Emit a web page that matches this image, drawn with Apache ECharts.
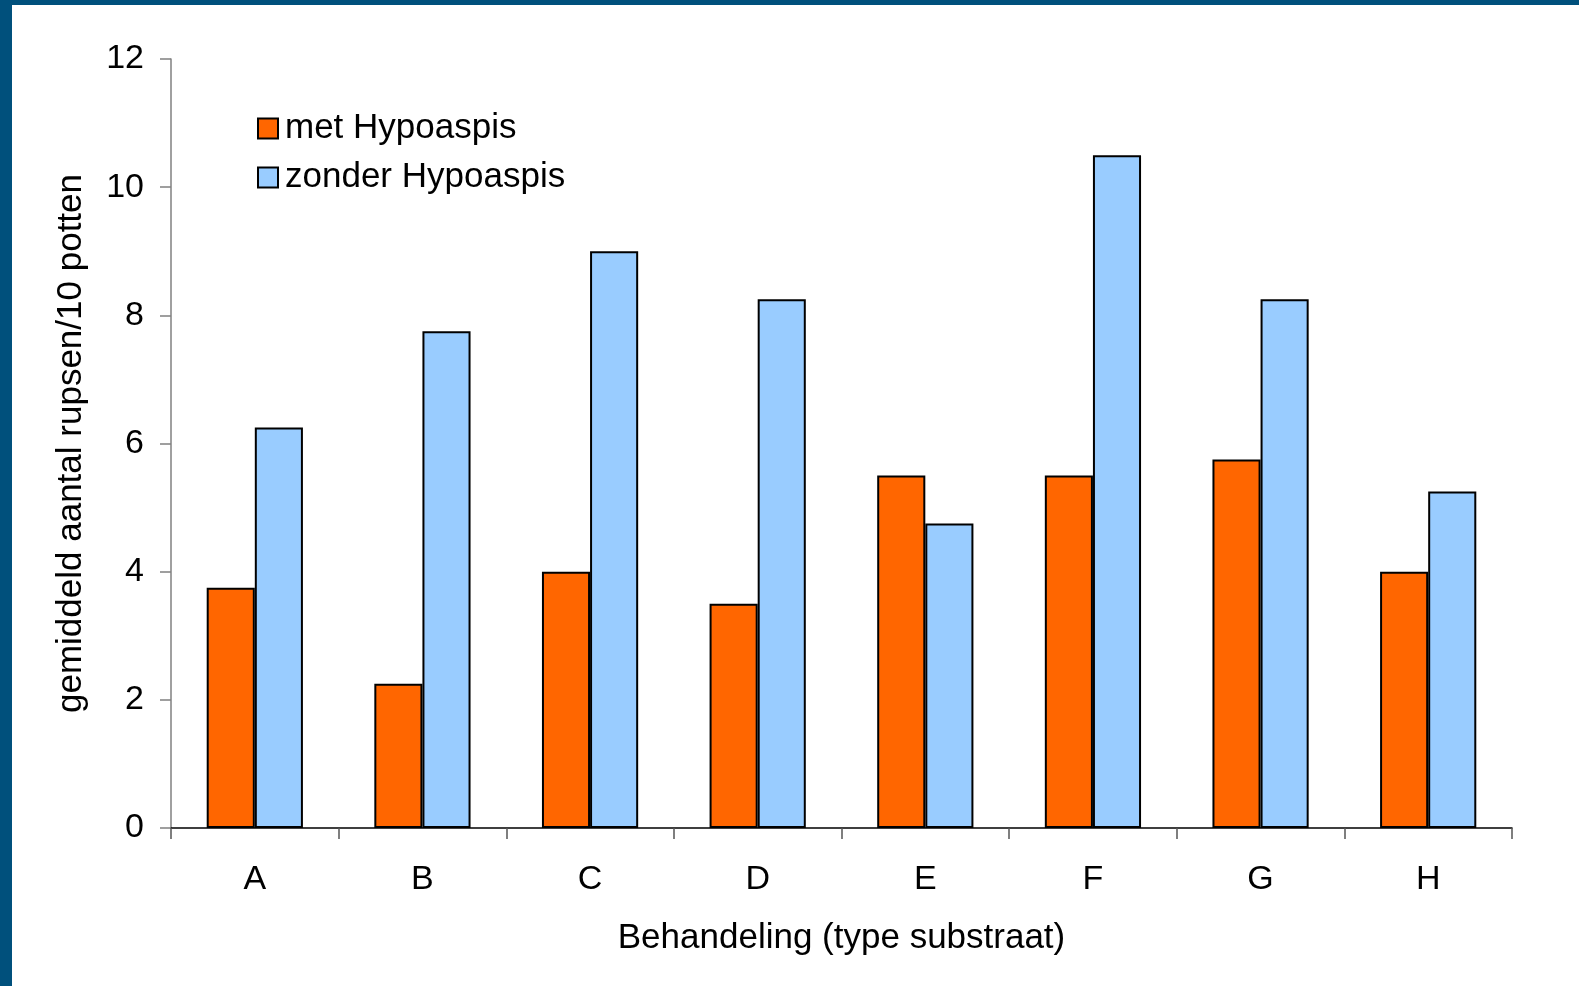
<!DOCTYPE html>
<html>
<head>
<meta charset="utf-8">
<script src="https://cdn.jsdelivr.net/npm/echarts@6/dist/echarts.min.js"></script>
<style>
html,body{margin:0;padding:0;background:#fff;}
#frame{position:absolute;left:0;top:0;width:1579px;height:986px;background:#00507C;}
#inner{position:absolute;left:12px;top:5px;width:1567px;height:981px;background:#fff;}
#chart{position:absolute;left:0;top:0;width:1579px;height:986px;}
</style>
</head>
<body>
<div id="frame"><div id="inner"></div></div>
<div id="chart"></div>
<script>
var categories = ['A','B','C','D','E','F','G','H'];
var metHypoaspis = [3.75, 2.25, 4, 3.5, 5.5, 5.5, 5.75, 4];
var zonderHypoaspis = [6.25, 7.75, 9, 8.25, 4.75, 10.5, 8.25, 5.25];
var seriesNames = ['met Hypoaspis', 'zonder Hypoaspis'];
var yTicks = [0, 2, 4, 6, 8, 10, 12];

var chart = echarts.init(document.getElementById('chart'), null, {renderer:'canvas'});
var font = 'Liberation Sans, Arial, sans-serif';
chart.setOption({
  backgroundColor: 'transparent',
  animation: false,
  textStyle: {fontFamily: font, color: '#000'},
  grid: {left: 171, top: 59, right: 67, bottom: 158, containLabel: false},
  legend: {
    orient: 'vertical', left: 252, top: 106,
    itemWidth: 20, itemHeight: 20, itemGap: 14,
    icon: 'rect',
    textStyle: {fontFamily: font, fontSize: 35, color: '#000', padding: [0,0,0,2]},
    data: seriesNames
  },
  xAxis: {
    type: 'category', data: categories,
    name: 'Behandeling (type substraat)', nameLocation: 'middle', nameGap: 93,
    nameTextStyle: {fontFamily: font, fontSize: 35, color: '#000'},
    axisLine: {lineStyle: {color: '#000', width: 1.5}},
    axisTick: {show: true, length: 11, lineStyle: {color: '#555', width: 1.5}},
    axisLabel: {fontFamily: font, fontSize: 34, color: '#000', margin: 35}
  },
  yAxis: {
    type: 'value', min: yTicks[0], max: yTicks[yTicks.length-1], interval: 2,
    name: 'gemiddeld aantal rupsen/10 potten', nameLocation: 'middle', nameGap: 82,
    nameTextStyle: {fontFamily: font, fontSize: 35, color: '#000'},
    axisLine: {show: true, lineStyle: {color: '#808080', width: 1.5}},
    axisTick: {show: true, length: 11, lineStyle: {color: '#808080', width: 1.5}},
    axisLabel: {fontFamily: font, fontSize: 34, color: '#000', margin: 27},
    splitLine: {show: false}
  },
  series: [
    {name: seriesNames[0], type: 'bar', data: metHypoaspis, barGap: '0%', barCategoryGap: '42.6%',
     itemStyle: {color: '#FF6600', borderColor: '#000', borderWidth: 2}},
    {name: seriesNames[1], type: 'bar', data: zonderHypoaspis, barGap: '0%', barCategoryGap: '42.6%',
     itemStyle: {color: '#99CCFF', borderColor: '#000', borderWidth: 2}}
  ]
});
</script>
</body>
</html>
